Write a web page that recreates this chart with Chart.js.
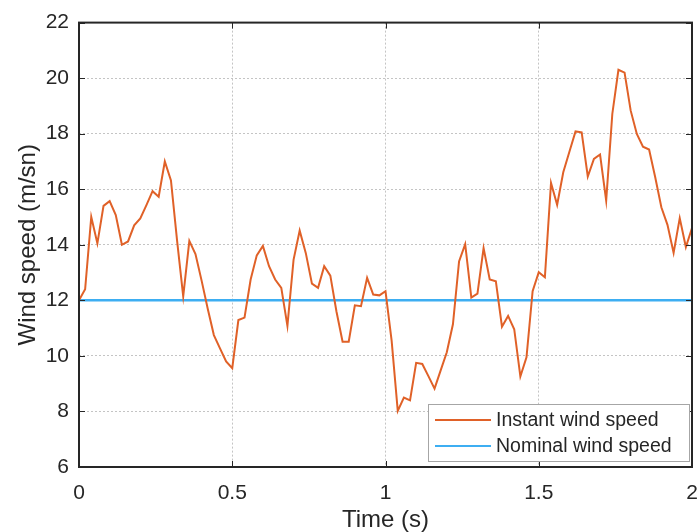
<!DOCTYPE html>
<html>
<head>
<meta charset="utf-8">
<title>Wind speed</title>
<script src="https://cdn.jsdelivr.net/npm/chart.js@4.4.1/dist/chart.umd.min.js"></script>
<style>
  html, body { margin: 0; padding: 0; background: #fff; }
  #wrap { width: 699px; height: 532px; }
</style>
</head>
<body>
<div id="wrap"><canvas id="windChart" width="699" height="532"></canvas></div>
<script>
  // sample times (s)
  const sampleTimes = [
    0, 0.02, 0.04, 0.06, 0.08, 0.1, 0.12, 0.14, 0.16, 0.18,
    0.2, 0.22, 0.24, 0.26, 0.28, 0.3, 0.32, 0.34, 0.36, 0.38,
    0.4, 0.42, 0.44, 0.46, 0.48, 0.5, 0.52, 0.54, 0.56, 0.58,
    0.6, 0.62, 0.64, 0.66, 0.68, 0.7, 0.72, 0.74, 0.76, 0.78,
    0.8, 0.82, 0.84, 0.86, 0.88, 0.9, 0.92, 0.94, 0.96, 0.98,
    1, 1.02, 1.04, 1.06, 1.08, 1.1, 1.12, 1.14, 1.16, 1.18,
    1.2, 1.22, 1.24, 1.26, 1.28, 1.3, 1.32, 1.34, 1.36, 1.38,
    1.4, 1.42, 1.44, 1.46, 1.48, 1.5, 1.52, 1.54, 1.56, 1.58,
    1.6, 1.62, 1.64, 1.66, 1.68, 1.7, 1.72, 1.74, 1.76, 1.78,
    1.8, 1.82, 1.84, 1.86, 1.88, 1.9, 1.92, 1.94, 1.96, 1.98,
    2
  ];

  // instant wind speed (m/sn)
  const instantSpeed = [
    12.0, 12.4, 15.0, 14.05, 15.4, 15.57, 15.07, 14.0, 14.12, 14.7,
    14.95, 15.43, 15.93, 15.73, 17.0, 16.32, 14.15, 12.14, 14.14, 13.67,
    12.71, 11.7, 10.75, 10.27, 9.8, 9.56, 11.29, 11.38, 12.75, 13.62,
    13.96, 13.23, 12.75, 12.45, 11.08, 13.46, 14.51, 13.7, 12.6, 12.45,
    13.23, 12.89, 11.6, 10.51, 10.51, 11.82, 11.79, 12.81, 12.21, 12.18,
    12.33, 10.55, 8.02, 8.5, 8.4, 9.75, 9.71, 9.27, 8.82, 9.48,
    10.13, 11.14, 13.4, 14.02, 12.1, 12.24, 13.88, 12.75, 12.69, 11.05,
    11.44, 10.96, 9.26, 9.95, 12.33, 13.01, 12.83, 16.23, 15.44, 16.61,
    17.35, 18.08, 18.05, 16.46, 17.09, 17.25, 15.59, 18.71, 20.3, 20.2,
    18.83, 17.99, 17.53, 17.43, 16.43, 15.35, 14.72, 13.71, 14.96, 13.92,
    14.6
  ];

  const nominalTimes = [0, 2];
  const nominalSpeed = [12, 12];

  const seriesLabels = ['Instant wind speed', 'Nominal wind speed'];
  const seriesColors = ['#E06128', '#3DAEF2'];

  const xTicks = [0, 0.5, 1, 1.5, 2];
  const yTicks = [6, 8, 10, 12, 14, 16, 18, 20, 22];

  const textColor = '#262626';
  const fontFamily = '"Liberation Sans", Arial, Helvetica, sans-serif';

  // box, inner tick marks and the legend, drawn like the original figure
  const figureFrame = {
    id: 'figureFrame',
    afterDatasetsDraw(chart) {
      const { ctx, chartArea: a, scales } = chart;
      const tickLen = 6;
      ctx.save();
      ctx.strokeStyle = textColor;
      ctx.lineWidth = 1;
      ctx.beginPath();
      xTicks.forEach((v) => {
        const px = Math.round(scales.x.getPixelForValue(v)) + 0.5;
        ctx.moveTo(px, a.bottom); ctx.lineTo(px, a.bottom - tickLen);
        ctx.moveTo(px, a.top); ctx.lineTo(px, a.top + tickLen);
      });
      yTicks.forEach((v) => {
        const py = Math.round(scales.y.getPixelForValue(v)) + 0.5;
        ctx.moveTo(a.left, py); ctx.lineTo(a.left + tickLen, py);
        ctx.moveTo(a.right, py); ctx.lineTo(a.right - tickLen, py);
      });
      ctx.stroke();

      ctx.lineWidth = 2;
      ctx.strokeRect(a.left, a.top, a.right - a.left, a.bottom - a.top);

      // legend
      const lx = 428, ly = 404, lw = 261, lh = 57;
      ctx.fillStyle = '#fff';
      ctx.fillRect(lx, ly, lw, lh);
      ctx.strokeStyle = '#a6a6a6';
      ctx.lineWidth = 1;
      ctx.strokeRect(lx + 0.5, ly + 0.5, lw, lh);
      ctx.font = '19.5px ' + fontFamily;
      ctx.textBaseline = 'middle';
      seriesLabels.forEach((label, i) => {
        const y = ly + 16 + i * 26;
        ctx.strokeStyle = seriesColors[i];
        ctx.lineWidth = 2;
        ctx.beginPath();
        ctx.moveTo(lx + 7, y);
        ctx.lineTo(lx + 63, y);
        ctx.stroke();
        ctx.fillStyle = textColor;
        ctx.fillText(label, lx + 68, y + 1);
      });
      ctx.restore();
    }
  };

  const ctx = document.getElementById('windChart').getContext('2d');
  new Chart(ctx, {
    type: 'line',
    data: {
      datasets: [
        {
          label: seriesLabels[0],
          data: sampleTimes.map((t, i) => ({ x: t, y: instantSpeed[i] })),
          borderColor: seriesColors[0],
          borderWidth: 2,
          pointRadius: 0,
          tension: 0,
          fill: false
        },
        {
          label: seriesLabels[1],
          data: nominalTimes.map((t, i) => ({ x: t, y: nominalSpeed[i] })),
          borderColor: seriesColors[1],
          borderWidth: 2.5,
          pointRadius: 0,
          tension: 0,
          fill: false
        }
      ]
    },
    options: {
      responsive: false,
      animation: false,
      layout: {
        padding: { top: 22, right: 7, left: 0, bottom: 0 }
      },
      plugins: {
        legend: { display: false },
        tooltip: { enabled: false }
      },
      scales: {
        x: {
          type: 'linear',
          min: 0,
          max: 2,
          afterBuildTicks: (scale) => { scale.ticks = xTicks.map((v) => ({ value: v })); },
          afterFit: (scale) => { scale.height = 65; },
          ticks: {
            color: textColor,
            padding: 0,
            maxRotation: 0,
            callback: (v) => String(v),
            font: { family: fontFamily, size: 21 }
          },
          grid: {
            color: '#c4c4c4',
            lineWidth: 1,
            drawTicks: true,
            tickLength: 14,
            tickColor: 'rgba(0,0,0,0)'
          },
          border: { display: false, dash: [2, 2] },
          title: {
            display: true,
            text: 'Time (s)',
            color: textColor,
            padding: { top: 0, bottom: -3 },
            font: { family: fontFamily, size: 24 }
          }
        },
        y: {
          type: 'linear',
          min: 6,
          max: 22,
          afterBuildTicks: (scale) => { scale.ticks = yTicks.map((v) => ({ value: v })); },
          afterFit: (scale) => { scale.width = 79; },
          ticks: {
            color: textColor,
            padding: 10,
            callback: (v) => String(v),
            font: { family: fontFamily, size: 21 }
          },
          grid: {
            color: '#c4c4c4',
            lineWidth: 1,
            drawTicks: false
          },
          border: { display: false, dash: [2, 2] },
          title: {
            display: true,
            text: 'Wind speed (m/sn)',
            color: textColor,
            padding: { top: 14, bottom: 0 },
            font: { family: fontFamily, size: 24 }
          }
        }
      }
    },
    plugins: [figureFrame]
  });
</script>
</body>
</html>
